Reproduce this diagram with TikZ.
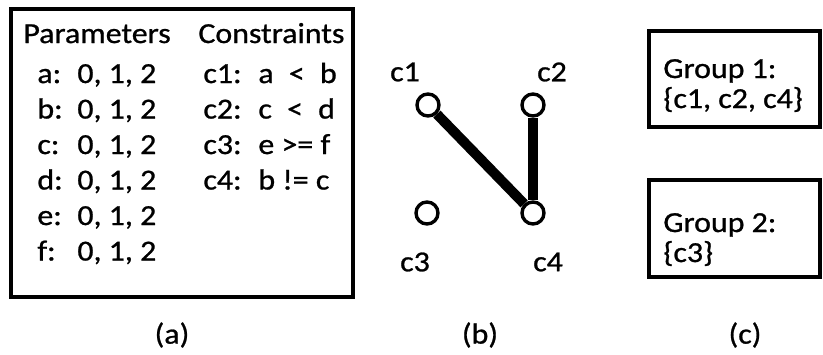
\documentclass[tikz,border=0pt]{standalone}
\usepackage{fontspec}
\setmainfont{Carlito}[FakeStretch=1.1, FakeBold=0.9]
\usetikzlibrary{positioning}

\tikzset{
  frame/.style={draw, line width=1.6pt},
  txt/.style={font=\fontsize{14.5}{15}\selectfont, inner sep=0pt, anchor=base west},
  lbl/.style={font=\fontsize{14.5}{15}\selectfont, inner sep=0pt},
  cons/.style={circle, draw, line width=1.7pt, fill=white, inner sep=0pt, minimum size=11pt},
  link/.style={line width=5pt},
}

\begin{document}
\begin{tikzpicture}[x=0.5pt, y=-0.5pt]
\useasboundingbox (0,0) rectangle (823,354);

% --- (a): parameters and constraints ---
\draw[frame] (11,9) rectangle (353,297);
\node[txt] (parhead) at (23,43) {Parameters};
\node[txt] (conhead) at (198,43) {Constraints};
\foreach \p [count=\i from 0] in {a,b,c,d,e,f}
  \node[txt] (par\p) at (37,{83+35.5*\i}) {\makebox[20pt][l]{\p:}0, 1, 2};
\foreach \e [count=\i from 1] in {{a\hspace{4pt} <\hspace{4pt} b},{c\hspace{4pt} <\hspace{4pt} d},{e >= f},{b != c}}
  \node[txt] (con\i) at (203,{83+35.5*(\i-1)}) {\makebox[27.5pt][l]{c\i:}\e};

% --- (b): constraint graph ---
\node[cons] (c1) at (428,105) {};
\node[cons] (c2) at (533,105) {};
\node[cons] (c3) at (427,213) {};
\node[cons] (c4) at (533,213) {};
\draw[link] (c1) -- (c4);
\draw[link] (c2) -- (c4);
\node[lbl] (lc1) at (405,72) {c1};
\node[lbl] (lc2) at (552,72) {c2};
\node[lbl] (lc3) at (415,262) {c3};
\node[lbl] (lc4) at (548,262) {c4};

% --- (c): groups ---
\draw[frame] (649,31) rectangle (820,127);
\node[txt] (grp1) at (663,78) {Group 1:};
\node[txt] (set1) at (663,108) {\{c1, c2, c4\}};
\draw[frame] (649,180) rectangle (820,277);
\node[txt] (grp2) at (663,232) {Group 2:};
\node[txt] (set2) at (663,262) {\{c3\}};

% captions
\node[lbl] (capa) at (172,335) {(a)};
\node[lbl] (capb) at (480,335) {(b)};
\node[lbl] (capc) at (745,335) {(c)};
\end{tikzpicture}
\end{document}
